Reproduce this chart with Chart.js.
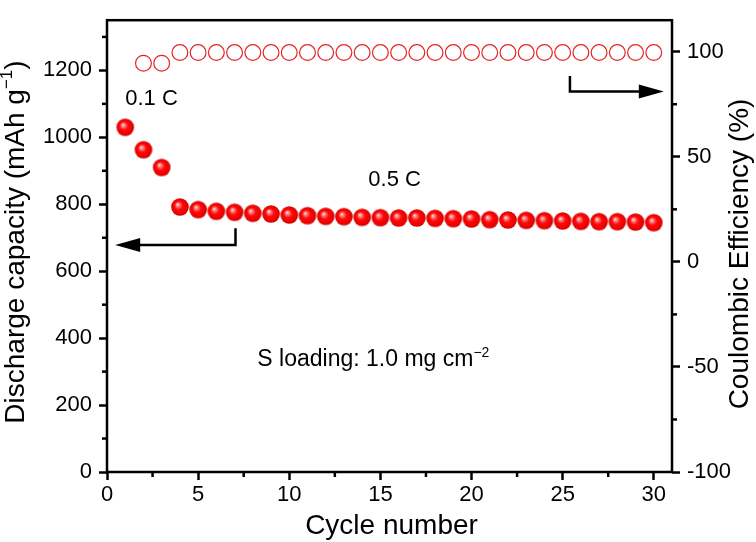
<!DOCTYPE html>
<html>
<head>
<meta charset="utf-8">
<script src="https://cdn.jsdelivr.net/npm/chart.js@4.4.1/dist/chart.umd.min.js"></script>
<style>
  html, body { margin: 0; padding: 0; background: #fff; }
  #wrap { width: 756px; height: 542px; position: relative; }
</style>
</head>
<body>
<div id="wrap"><canvas id="capacityChart"></canvas></div>
<script>
// cycle data
var cycles = [1, 2, 3, 4, 5, 6, 7, 8, 9, 10, 11, 12, 13, 14, 15, 16, 17, 18, 19, 20, 21, 22, 23, 24, 25, 26, 27, 28, 29, 30]
var capacity = [1030, 963, 910, 792, 784, 779, 776, 773, 771, 768, 766, 764, 763, 761, 760, 759, 759, 758, 757, 756, 754, 753, 752, 751, 750, 749, 748, 748, 747, 745]
var efficiency = [null, 94.5, 94.5, 99.6, 99.6, 99.6, 99.6, 99.6, 99.6, 99.6, 99.6, 99.6, 99.6, 99.6, 99.6, 99.6, 99.6, 99.6, 99.6, 99.6, 99.6, 99.6, 99.6, 99.6, 99.6, 99.6, 99.6, 99.6, 99.6, 99.6]

var xTicks = [0, 5, 10, 15, 20, 25, 30]
var xMinor = [2.5, 7.5, 12.5, 17.5, 22.5, 27.5]
var capTicks = [0, 200, 400, 600, 800, 1000, 1200]
var capMinor = [100, 300, 500, 700, 900, 1100, 1300]
var ceTicks = [-100, -50, 0, 50, 100]
var ceMinor = [-75, -25, 25, 75]

var FONT = '"Liberation Sans", Arial, sans-serif'

function pointsFrom(xs, ys) {
  return xs.map(function (x, i) { return { x: x, y: ys[i] } })
}

function sphereImage(r) {
  var size = Math.ceil(r * 2) + 2
  var c = document.createElement('canvas')
  c.width = size; c.height = size
  var g = c.getContext('2d')
  var cx = size / 2, cy = size / 2
  var grad = g.createRadialGradient(cx - r * 0.28, cy - r * 0.3, 0, cx, cy, r)
  grad.addColorStop(0, '#fff0f0')
  grad.addColorStop(0.2, '#ff8080')
  grad.addColorStop(0.48, '#ff0808')
  grad.addColorStop(0.85, '#f00000')
  grad.addColorStop(1, '#c00000')
  g.fillStyle = grad
  g.beginPath(); g.arc(cx, cy, r, 0, Math.PI * 2); g.fill()
  return c
}

function drawRich(ctx, parts, x, y, size, align) {
  var supSize = Math.round(size * 0.62)
  var total = 0
  parts.forEach(function (p) {
    ctx.font = (p.sup ? supSize : size) + 'px ' + FONT
    p.w = ctx.measureText(p.t).width
    total += p.w
  })
  var cx = align === 'center' ? x - total / 2 : x
  parts.forEach(function (p) {
    ctx.font = (p.sup ? supSize : size) + 'px ' + FONT
    ctx.fillText(p.t, cx, p.sup ? y - size * 0.42 : y)
    cx += p.w
  })
}

function minorTicks(ctx, scale, values, len, side) {
  values.forEach(function (v) {
    var p = scale.getPixelForValue(v)
    ctx.beginPath()
    if (side === 'left') { ctx.moveTo(scale.right, p); ctx.lineTo(scale.right - len, p) }
    else if (side === 'right') { ctx.moveTo(scale.left, p); ctx.lineTo(scale.left + len, p) }
    else { ctx.moveTo(p, scale.top); ctx.lineTo(p, scale.top + len) }
    ctx.stroke()
  })
}

function arrowHead(ctx, tipX, tipY, dir) {
  ctx.beginPath()
  ctx.moveTo(tipX, tipY)
  ctx.lineTo(tipX - dir * 25, tipY - 7)
  ctx.lineTo(tipX - dir * 25, tipY + 7)
  ctx.closePath()
  ctx.fill()
}

var decorations = {
  id: 'decorations',
  afterDraw: function (chart) {
    var ctx = chart.ctx
    var a = chart.chartArea
    var x = chart.scales.x, y = chart.scales.y, y1 = chart.scales.y1
    ctx.save()
    ctx.strokeStyle = '#000'
    ctx.fillStyle = '#000'

    // frame
    ctx.lineWidth = 2.5
    ctx.strokeRect(a.left, a.top, a.right - a.left, a.bottom - a.top)

    // minor ticks
    minorTicks(ctx, x, xMinor, 5)
    minorTicks(ctx, y, capMinor, 5, 'left')
    minorTicks(ctx, y1, ceMinor, 5, 'right')

    // arrows
    var lx = x.getPixelForValue(7.05)
    var ly0 = y.getPixelForValue(728), ly1 = y.getPixelForValue(678)
    var ltip = x.getPixelForValue(0.45)
    ctx.beginPath(); ctx.moveTo(lx, ly0); ctx.lineTo(lx, ly1); ctx.lineTo(ltip + 20, ly1); ctx.stroke()
    arrowHead(ctx, ltip, ly1, -1)

    var rx = x.getPixelForValue(25.4)
    var ry0 = y1.getPixelForValue(88.5), ry1 = y1.getPixelForValue(81.1)
    var rtip = x.getPixelForValue(30.55)
    ctx.beginPath(); ctx.moveTo(rx, ry0); ctx.lineTo(rx, ry1); ctx.lineTo(rtip - 20, ry1); ctx.stroke()
    arrowHead(ctx, rtip, ry1, 1)

    // labels in plot
    ctx.textBaseline = 'alphabetic'
    ctx.textAlign = 'left'
    drawRich(ctx, [{ t: '0.1 C' }], x.getPixelForValue(1.0), y.getPixelForValue(1096), 22, 'left')
    drawRich(ctx, [{ t: '0.5 C' }], x.getPixelForValue(14.34), y.getPixelForValue(854), 22, 'left')
    drawRich(ctx, [{ t: 'S loading: 1.0 mg cm' }, { t: '\u22122', sup: true }], x.getPixelForValue(8.25), y.getPixelForValue(316), 23, 'left')

    // axis titles
    drawRich(ctx, [{ t: 'Cycle number' }], (a.left + a.right) / 2 + 2, 534, 28, 'center')
    ctx.save()
    ctx.translate(24, 242)
    ctx.rotate(-Math.PI / 2)
    drawRich(ctx, [{ t: 'Discharge capacity (mAh g' }, { t: '\u22121', sup: true }, { t: ')' }], 0, 0, 28, 'center')
    ctx.restore()
    ctx.save()
    ctx.translate(748, 254)
    ctx.rotate(-Math.PI / 2)
    drawRich(ctx, [{ t: 'Coulombic Efficiency (%)' }], 0, 0, 28, 'center')
    ctx.restore()

    ctx.restore()
  }
}

function fixedTicks(list) {
  return function (scale) {
    scale.ticks = list.map(function (v) { return { value: v } })
  }
}

function plainLabel(value) { return String(value) }

var tickGrid = { display: true, drawOnChartArea: false, drawTicks: true, tickLength: 8, tickWidth: 2.5, tickColor: '#000', color: '#000' }
var tickFont = { family: FONT, size: 22 }

var context = document.getElementById('capacityChart').getContext('2d')
var chart = new Chart(context, {
  type: 'scatter',
  data: {
    datasets: [{
      label: 'Discharge capacity',
      data: pointsFrom(cycles, capacity),
      yAxisID: 'y',
      pointStyle: sphereImage(8.8),
      pointRadius: 9,
      showLine: false
    }, {
      label: 'Coulombic efficiency',
      data: pointsFrom(cycles, efficiency),
      yAxisID: 'y1',
      pointStyle: 'circle',
      pointRadius: 7.9,
      pointBorderWidth: 1.2,
      pointBorderColor: '#e42525',
      pointBackgroundColor: 'rgba(255,255,255,0)',
      showLine: false
    }]
  },
  options: {
    responsive: true,
    maintainAspectRatio: false,
    animation: false,
    layout: { padding: { top: 16, left: 0, right: 0, bottom: 0 } },
    plugins: { legend: { display: false }, tooltip: { enabled: false } },
    scales: {
      x: {
        type: 'linear', min: 0, max: 31,
        ticks: { font: tickFont, color: '#000', padding: 2, maxRotation: 0, autoSkip: false, callback: plainLabel },
        grid: tickGrid,
        border: { display: false },
        afterBuildTicks: fixedTicks(xTicks),
        afterFit: function (scale) { scale.height = 70 }
      },
      y: {
        type: 'linear', position: 'left', min: 0, max: 1350,
        ticks: { font: tickFont, color: '#000', padding: 7, autoSkip: false, callback: plainLabel },
        grid: tickGrid,
        border: { display: false },
        afterBuildTicks: fixedTicks(capTicks),
        afterFit: function (scale) { scale.width = 107 }
      },
      y1: {
        type: 'linear', position: 'right', min: -100, max: 115,
        ticks: { font: tickFont, color: '#000', padding: 7, autoSkip: false, callback: plainLabel },
        grid: tickGrid,
        border: { display: false },
        afterBuildTicks: fixedTicks(ceTicks),
        afterFit: function (scale) { scale.width = 84 }
      }
    }
  },
  plugins: [decorations]
})
</script>
</body>
</html>
